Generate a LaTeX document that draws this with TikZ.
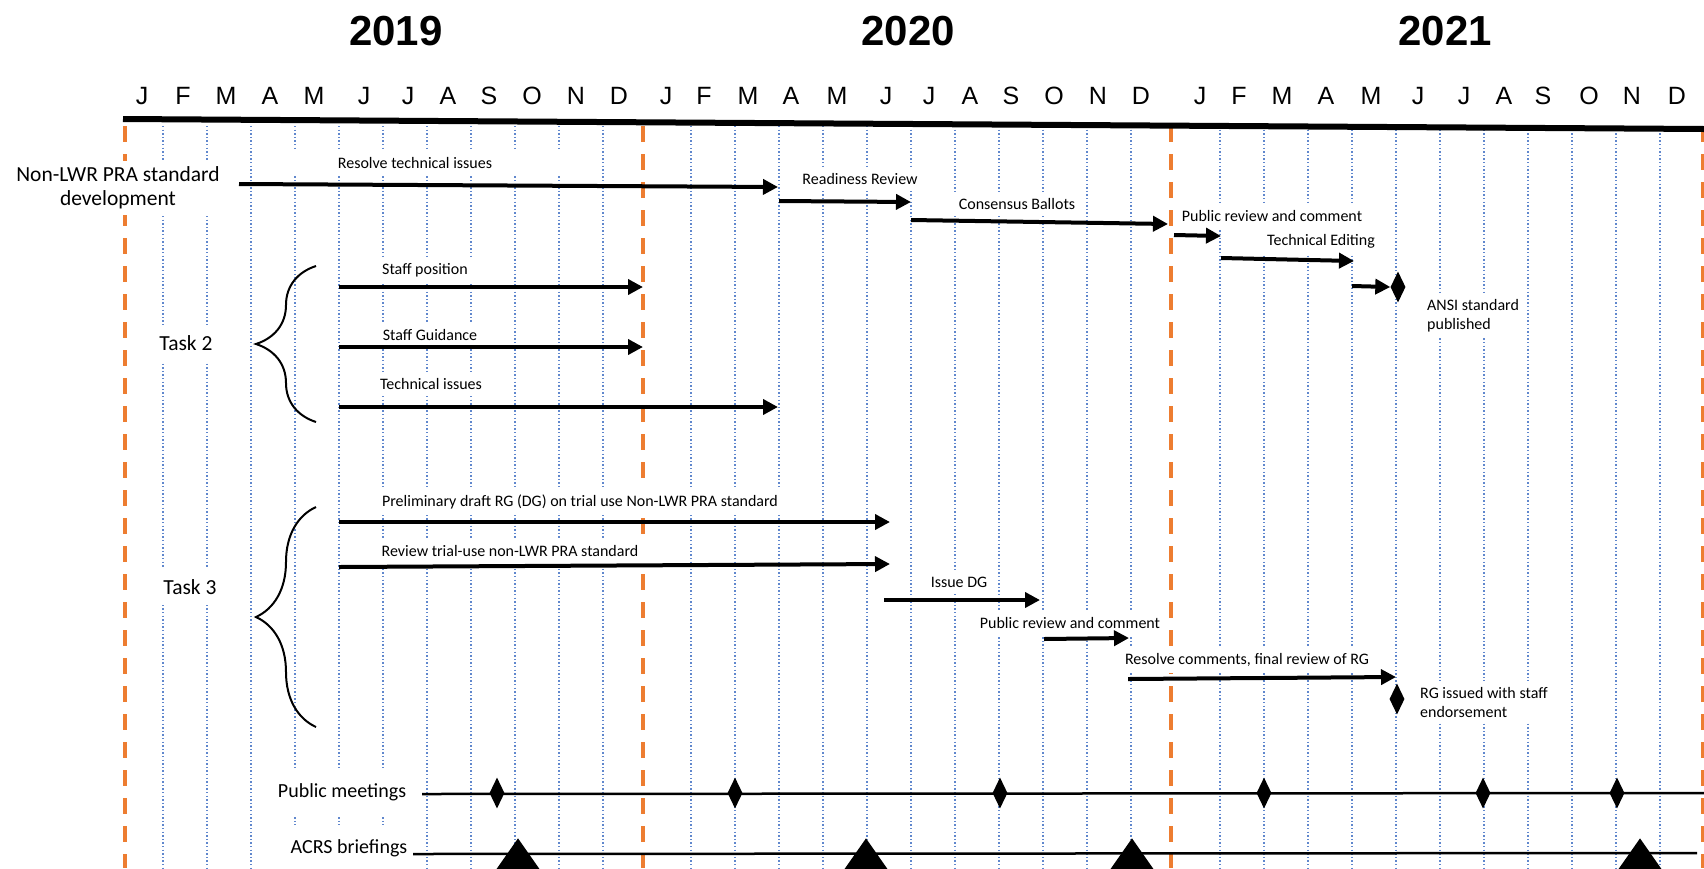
\documentclass[tikz,border=0pt]{standalone}
\usepackage{fontspec}
\setmainfont{Carlito}
\newfontfamily\arialfont{Liberation Sans}
\usepackage{tikz}
\usepackage{xcolor}
\definecolor{gridcolor}{RGB}{68,114,196}
\definecolor{yearcolor}{RGB}{237,125,49}
\usetikzlibrary{
  arrows.meta,
  shapes.geometric,
  decorations.pathreplacing,
}

\begin{document}
\begin{tikzpicture}[x=1pt,y=-1pt]
	\tikzstyle{every node}=[font=\fontsize{16}{19}\selectfont]
	\tikzstyle{year}=[font=\arialfont\bfseries\fontsize{42}{50}\selectfont, anchor=base]
	\tikzstyle{month}=[font=\arialfont\fontsize{25}{30}\selectfont, anchor=base]
	\tikzstyle{monthline}=[gridcolor!85, line width=1.4pt, dash pattern=on 1.4pt off 2.2pt]
	\tikzstyle{yearline}=[yearcolor, line width=3.5pt, dash pattern=on 16pt off 12pt]
	\tikzstyle{textbox}=[fill=white, inner xsep=8pt, inner ysep=6pt]
	\tikzstyle{bigtext}=[font=\fontsize{21.5}{24}\selectfont]
	\tikzstyle{task}=[line width=4pt, -{Triangle[length=15pt,width=15pt]}]
	\tikzstyle{meeting}=[line width=2.5pt]
	\tikzstyle{milestone}=[diamond, fill=black, inner sep=0pt, minimum width=15pt, minimum height=31pt]
	\tikzstyle{briefing}=[isosceles triangle, isosceles triangle apex angle=70, shape border rotate=90, fill=black, inner sep=0pt, minimum width=44pt, minimum height=44pt]
	\tikzstyle{taskbrace}=[line width=2pt, decorate, decoration={brace, amplitude=60pt}]
	\useasboundingbox (0,0) rectangle (1704,868);
	\clip (0,0) rectangle (1704,868);
	% month grid
	\foreach \x in {163,207,...,603} \draw[monthline] (\x,126) -- (\x,868);
	\foreach \x in {691,735,...,1131} \draw[monthline] (\x,126) -- (\x,868);
	\foreach \x in {1220,1264,...,1660} \draw[monthline] (\x,126) -- (\x,868);
	\foreach \x in {125,643,1171,1703} \draw[yearline] (\x,126) -- (\x,868);
	% years and months
	\node (y2019) [year] at (396,45) {2019};
	\node (y2020) [year] at (908,45) {2020};
	\node (y2021) [year] at (1445,45) {2021};
	\foreach \x/\m in {142/J,183/F,226/M,270/A,314/M,364/J,408/J,448/A,489/S,532/O,576/N,619/D,
		666/J,704/F,748/M,791/A,837/M,886/J,929/J,970/A,1011/S,1054/O,1098/N,1141/D,
		1200/J,1239/F,1282/M,1326/A,1371/M,1418/J,1464/J,1504/A,1543/S,1589/O,1632/N,1677/D}
		\node (m\x) [month] at (\x,104) {\m};
	\coordinate (axisstart) at (123,119);
	\coordinate (axisend) at (1704,129);
	\draw [line width=6pt] (axisstart) -- (axisend);
	% Labels
	\node (nonlwr) [textbox, bigtext, align=center] at (118,188) {Non-LWR PRA standard\\development};
	\node (lresolve) [textbox, minimum width=320pt] at (415,163) {Resolve technical issues};
	\node (lready) [textbox] at (860,179) {Readiness Review};
	\node (lballot) [textbox] at (1017,204) {Consensus Ballots};
	\node (lpublic1) [textbox] at (1272,216) {Public review and comment};
	\node (ledit) [textbox] at (1321,241) {Technical Editing};
	\node (lansi) [textbox, align=left, anchor=west] at (1419,316) {ANSI standard\\published};
	\node (task2) [textbox, bigtext, minimum width=118pt, inner ysep=10pt] at (186,343) {Task 2};
	\node (lstaffpos) [textbox] at (425,270) {Staff position};
	\node (lstaffgd) [textbox] at (430,335) {Staff Guidance};
	\node (ltech) [textbox] at (431,384) {Technical issues};
	\node (task3) [textbox, bigtext, minimum width=118pt, inner ysep=10pt] at (190,587) {Task 3};
	\node (ldraft) [textbox] at (580,502) {Preliminary draft RG (DG) on trial use Non-LWR PRA standard};
	\node (lreview) [textbox] at (510,551) {Review trial-use non-LWR PRA standard};
	\node (lissue) [textbox] at (959,582) {Issue DG};
	\node (lpublic2) [textbox] at (1070,623) {Public review and comment};
	\node (lresolve2) [textbox] at (1247,660) {Resolve comments, final review of RG};
	\node (lrg) [textbox, align=left, anchor=west] at (1412,702) {RG issued with staff\\endorsement};
	\node (lmeet) [textbox, inner ysep=14pt, font=\fontsize{20}{24}\selectfont] at (342,792) {Public meetings};
	\node (lacrs) [textbox, inner ysep=14pt, font=\fontsize{20}{24}\selectfont] at (349,848) {ACRS briefings};
	% Braces
	\coordinate (t2top) at (316,266);
	\coordinate (t2bot) at (316,422);
	\draw [taskbrace] (t2bot) -- (t2top);
	\coordinate (t3top) at (316,507);
	\coordinate (t3bot) at (316,727);
	\draw [taskbrace] (t3bot) -- (t3top);
	% Standard development arrows
	\coordinate (a0) at (239,184);
	\coordinate (a1) at (778,187);
	\coordinate (b0) at (779,201);
	\coordinate (b1) at (911,202);
	\coordinate (c0) at (911,220);
	\coordinate (c1) at (1168,224);
	\coordinate (d0) at (1174,235);
	\coordinate (d1) at (1221,236);
	\coordinate (e0) at (1221,258);
	\coordinate (e1) at (1354,261);
	\coordinate (f0) at (1352,286);
	\draw [task] (a0) -- (a1);
	\draw [task] (b0) -- (b1);
	\draw [task] (c0) -- (c1);
	\draw [task] (d0) -- (d1);
	\draw [task] (e0) -- (e1);
	\node (ansi) [milestone] at (1398,287) {};
	\draw [task] (f0) -- (ansi.west);
	% Task 2 arrows
	\coordinate (sp0) at (339,287);
	\coordinate (sp1) at (643,287);
	\coordinate (sg0) at (339,347);
	\coordinate (sg1) at (643,347);
	\coordinate (ti0) at (339,407);
	\coordinate (ti1) at (778,407);
	\draw [task] (sp0) -- (sp1);
	\draw [task] (sg0) -- (sg1);
	\draw [task] (ti0) -- (ti1);
	% Task 3 arrows
	\coordinate (pd0) at (339,522);
	\coordinate (pd1) at (890,522);
	\coordinate (rv0) at (339,567);
	\coordinate (rv1) at (890,564);
	\coordinate (dg0) at (884,600);
	\coordinate (dg1) at (1040,600);
	\coordinate (pr0) at (1044,639);
	\coordinate (pr1) at (1129,638);
	\coordinate (rc0) at (1128,679);
	\coordinate (rc1) at (1396,677);
	\draw [task] (pd0) -- (pd1);
	\draw [task] (rv0) -- (rv1);
	\draw [task] (dg0) -- (dg1);
	\draw [task] (pr0) -- (pr1);
	\draw [task] (rc0) -- (rc1);
	\node (rgdone) [milestone] at (1397,699) {};
	% Public meetings
	\coordinate (meetstart) at (422,794);
	\coordinate (meetend) at (1704,793);
	\draw [meeting] (meetstart) -- (meetend);
	\foreach \x in {497,735,1000,1264,1483,1617}
		\node (pm\x) [milestone] at (\x,793) {};
	% ACRS briefings
	\coordinate (acrsstart) at (413,854);
	\coordinate (acrsend) at (1697,853);
	\draw [meeting] (acrsstart) -- (acrsend);
	\foreach \x in {518,866,1132,1640}
		\node (acrs\x) [briefing, anchor=apex] at (\x,838) {};
\end{tikzpicture}
\end{document}
